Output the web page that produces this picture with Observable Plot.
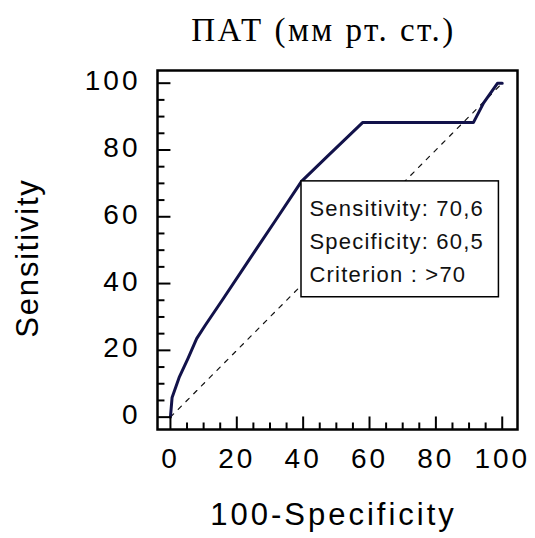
<!DOCTYPE html>
<html>
<head>
<meta charset="utf-8">
<script src="https://cdn.jsdelivr.net/npm/d3@7"></script>
<script src="https://cdn.jsdelivr.net/npm/@observablehq/plot@0.6"></script>
<style>
  html, body { margin: 0; padding: 0; background: #fff; }
  #chart svg { display: block; }
  .roc [aria-label="x-axis tick label"] text { letter-spacing: 3px; }
  .roc [aria-label="y-axis tick label"] text { letter-spacing: 3px; }
  .roc .ann text { letter-spacing: 1.2px; }
  .roc .xlab text { letter-spacing: 3px; }
  .roc .ylab text { letter-spacing: 1.8px; }
  .roc .ttl text { letter-spacing: 2.5px; }
</style>
</head>
<body>
<div id="chart"></div>
<script>
const titleText = "ПАТ (мм рт. ст.)";
const xLabel = "100-Specificity";
const yLabel = "Sensitivity";

// ROC curve points: 100 - specificity (x) and sensitivity (y)
const fpr = [0, 0.5, 2.6, 5.3, 7.9, 10.5, 15.8, 23.7, 31.6, 39.5, 47.6, 57.9, 91.3, 94.4, 98.6, 100];
const tpr = [0, 5.9, 11.8, 17.6, 23.5, 27.5, 35.3, 47.1, 58.8, 70.6, 78.4, 88.2, 88.2, 94.1, 100, 100];

// reference (chance) line
const diagX = [0, 100];
const diagY = [0, 100];

// tick values
const majorTicks = [0, 20, 40, 60, 80, 100];
const minorTicks = [5, 10, 15, 25, 30, 35, 45, 50, 55, 65, 70, 75, 85, 90, 95];

// optimal criterion annotation
const critSensitivity = 70.6;
const critSpecificity = 60.5;
const critCriterion = ">70";
const boxRight = 99;
const boxBottom = 35.9;

const roc = fpr.map((x, i) => ({x, y: tpr[i]}));
const diag = diagX.map((x, i) => ({x, y: diagY[i]}));
const fmt = v => String(v).replace(".", ",");
const annText = [
  `Sensitivity: ${fmt(critSensitivity)}`,
  `Specificity: ${fmt(critSpecificity)}`,
  `Criterion : ${critCriterion}`
].join("\n");
const box = [{x1: 100 - critSpecificity, x2: boxRight, y1: boxBottom, y2: critSensitivity, text: annText}];

const sans = "Liberation Sans, Arial, sans-serif";
const W = 535, H = 538, ML = 157, MR = 18, MT = 70, MB = 109;
const xDomain = [-3.9, 104.6];
const yDomain = [-3.7, 103.8];
// inward tick lengths, in data units (≈ 7 px and 13 px)
const minorLenX = 2.1, majorLenX = 3.9;
const minorLenY = 2.1, majorLenY = 3.9;
const xMinorTicks = minorTicks.map(v => ({v, a: yDomain[0], b: yDomain[0] + minorLenY}));
const xMajorTicks = majorTicks.map(v => ({v, a: yDomain[0], b: yDomain[0] + majorLenY}));
const yMinorTicks = minorTicks.map(v => ({v, a: xDomain[0], b: xDomain[0] + minorLenX}));
const yMajorTicks = majorTicks.map(v => ({v, a: xDomain[0], b: xDomain[0] + majorLenX}));

const chart = Plot.plot({
  width: W,
  height: H,
  marginLeft: ML,
  marginRight: MR,
  marginTop: MT,
  marginBottom: MB,
  className: "roc",
  style: {fontFamily: sans, color: "#000", background: "#fff", overflow: "visible"},
  x: {domain: xDomain, label: null},
  y: {domain: yDomain, label: null},
  marks: [
    // tick labels
    Plot.axisX({ticks: majorTicks, tickSize: 0, tickPadding: 19, fontSize: 28, label: null}),
    Plot.axisY({ticks: majorTicks, tickSize: 0, tickPadding: 17, fontSize: 28, dy: -2, label: null}),
    Plot.line(diag, {x: "x", y: "y", stroke: "#111", strokeWidth: 1.2, strokeDasharray: "4.5,6.5"}),
    Plot.line(roc, {x: "x", y: "y", stroke: "#12124a", strokeWidth: 3, strokeLinejoin: "round"}),
    Plot.rect(box, {x1: "x1", x2: "x2", y1: "y1", y2: "y2", fill: "#fff", stroke: "#000", strokeWidth: 1.5}),
    Plot.text(box, {x: "x1", y: "y2", text: "text", textAnchor: "start", lineAnchor: "top", dx: 8, dy: 12, fontSize: 22, lineHeight: 1.48, fill: "#111", className: "ann"}),
    Plot.frame({stroke: "#000", strokeWidth: 2.5}),
    // inward tick marks
    Plot.link(xMinorTicks, {x1: "v", x2: "v", y1: "a", y2: "b", stroke: "#000", strokeWidth: 2}),
    Plot.link(xMajorTicks, {x1: "v", x2: "v", y1: "a", y2: "b", stroke: "#000", strokeWidth: 2}),
    Plot.link(yMinorTicks, {y1: "v", y2: "v", x1: "a", x2: "b", stroke: "#000", strokeWidth: 2}),
    Plot.link(yMajorTicks, {y1: "v", y2: "v", x1: "a", x2: "b", stroke: "#000", strokeWidth: 2}),
    // titles
    Plot.text([titleText], {frameAnchor: "top", lineAnchor: "top", text: d => d, dx: -14, dy: -53, fontSize: 33, fontFamily: "Liberation Serif, Times New Roman, serif", fill: "#000", className: "ttl"}),
    Plot.text([xLabel], {frameAnchor: "bottom", text: d => d, dx: -4, dy: 95, fontSize: 31, fill: "#000", className: "xlab"}),
    Plot.text([yLabel], {frameAnchor: "left", textAnchor: "middle", lineAnchor: "middle", text: d => d, rotate: -90, dx: -129, dy: 8, fontSize: 31, fill: "#000", className: "ylab"})
  ]
});
document.getElementById("chart").append(chart);
</script>
</body>
</html>
